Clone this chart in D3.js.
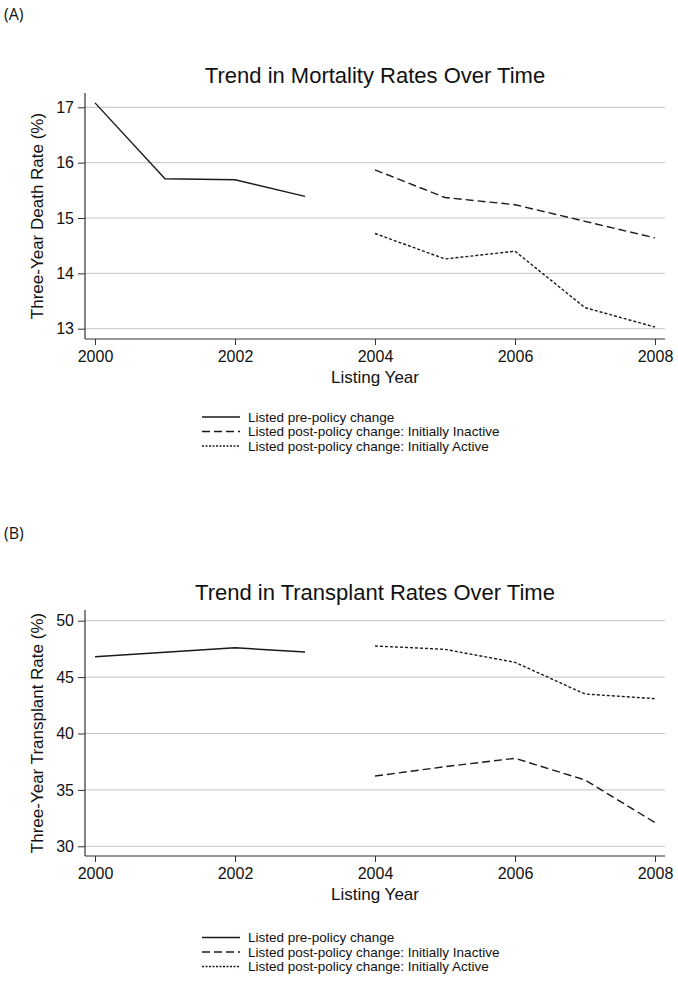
<!DOCTYPE html>
<html>
<head>
<meta charset="utf-8">
<script src="https://cdn.jsdelivr.net/npm/d3@7"></script>
<style>
  html, body { margin: 0; padding: 0; background: #fff; }
  svg { display: block; }
  svg text { font-family: Arial, "Liberation Sans", Helvetica, sans-serif; }
  svg text.tag { font-family: "Open Sans", Carlito, Calibri, sans-serif; }
</style>
</head>
<body>
<svg id="chart" width="678" height="993"></svg>
<script>
// ---- Data ----
const yearsPre = [2000, 2001, 2002, 2003];
const yearsPost = [2004, 2005, 2006, 2007, 2008];
const xTicks = [2000, 2002, 2004, 2006, 2008];

const mortalityPre = [17.08, 15.71, 15.69, 15.39];
const mortalityInactive = [15.87, 15.37, 15.24, 14.94, 14.64];
const mortalityActive = [14.72, 14.26, 14.40, 13.38, 13.03];
const mortalityTicks = [13, 14, 15, 16, 17];

const transplantPre = [46.8, 47.2, 47.6, 47.22];
const transplantInactive = [36.23, 37.06, 37.8, 35.88, 32.1];
const transplantActive = [47.76, 47.46, 46.31, 43.5, 43.09];
const transplantTicks = [30, 35, 40, 45, 50];

const legendLabels = [
  "Listed pre-policy change",
  "Listed post-policy change: Initially Inactive",
  "Listed post-policy change: Initially Active"
];
const dashStyles = [null, "8,4", "3,2"];

const svg = d3.select("#chart");
const lineColor = "#1a1a1a";
const axisColor = "#333";

function panel(cfg) {
  const g = svg.append("g");
  const x = d3.scaleLinear().domain([2000, 2008]).range([95, 655]);
  const y = d3.scaleLinear().domain(cfg.yDomain).range(cfg.yRange);

  // panel tag
  g.append("text").attr("class", "tag").attr("x", 4).attr("y", cfg.tagY)
    .attr("font-size", 16).attr("fill", "#111").text(cfg.tag);

  // title
  g.append("text").attr("x", 375).attr("y", cfg.titleY)
    .attr("text-anchor", "middle").attr("font-size", 22).attr("fill", "#111")
    .text(cfg.title);

  // gridlines
  g.append("g").selectAll("line").data(cfg.yTicks).join("line")
    .attr("x1", 85).attr("x2", 665)
    .attr("y1", d => y(d)).attr("y2", d => y(d))
    .attr("stroke", "#c4c4c4").attr("stroke-width", 1);

  // y axis
  const yAxis = d3.axisLeft(y).tickValues(cfg.yTicks).tickFormat(d3.format("d"))
    .tickSize(7).tickPadding(4);
  const ya = g.append("g").attr("transform", "translate(85,0)").call(yAxis);
  ya.attr("font-family", null).attr("font-size", null);
  ya.select(".domain").remove();
  ya.selectAll(".tick line").attr("stroke", axisColor);
  ya.selectAll(".tick text").attr("font-size", 16).attr("fill", "#111");
  g.append("line").attr("x1", 85).attr("x2", 85)
    .attr("y1", cfg.axisTop).attr("y2", cfg.axisBottom)
    .attr("stroke", axisColor).attr("stroke-width", 1.2);

  // x axis
  const xAxis = d3.axisBottom(x).tickValues(xTicks).tickFormat(d3.format("d"))
    .tickSize(6).tickPadding(6);
  const xa = g.append("g").attr("transform", `translate(0,${cfg.axisBottom})`).call(xAxis);
  xa.attr("font-family", null).attr("font-size", null);
  xa.select(".domain").remove();
  xa.selectAll(".tick line").attr("stroke", axisColor);
  xa.selectAll(".tick text").attr("font-size", 16).attr("fill", "#111");
  g.append("line").attr("x1", 85).attr("x2", 665)
    .attr("y1", cfg.axisBottom).attr("y2", cfg.axisBottom)
    .attr("stroke", axisColor).attr("stroke-width", 1.2);

  // axis titles
  g.append("text").attr("x", 375).attr("y", cfg.axisBottom + 44)
    .attr("text-anchor", "middle").attr("font-size", 17).attr("fill", "#111")
    .text("Listing Year");
  g.append("text")
    .attr("transform", `translate(43,${(cfg.axisTop + cfg.axisBottom) / 2}) rotate(-90)`)
    .attr("text-anchor", "middle").attr("font-size", 17).attr("fill", "#111")
    .text(cfg.yLabel);

  // lines
  const line = d3.line().x(d => x(d[0])).y(d => y(d[1]));
  const series = [
    d3.zip(yearsPre, cfg.pre),
    d3.zip(yearsPost, cfg.inactive),
    d3.zip(yearsPost, cfg.active)
  ];
  series.forEach((s, i) => {
    g.append("path").datum(s).attr("d", line)
      .attr("fill", "none").attr("stroke", lineColor).attr("stroke-width", 1.4)
      .attr("stroke-dasharray", dashStyles[i]);
  });

  // legend
  const lg = g.append("g");
  legendLabels.forEach((lab, i) => {
    const cy = cfg.legendY + i * 14.5;
    lg.append("line").attr("x1", 202).attr("x2", 240).attr("y1", cy).attr("y2", cy)
      .attr("stroke", lineColor).attr("stroke-width", 1.4)
      .attr("stroke-dasharray", i === 2 ? "2,1.5" : dashStyles[i]);
    lg.append("text").attr("x", 248).attr("y", cy).attr("dy", "0.35em")
      .attr("font-size", 13.5).attr("fill", "#111").text(lab);
  });
}

panel({
  tag: "(A)", tagY: 20,
  title: "Trend in Mortality Rates Over Time", titleY: 83,
  yDomain: [13, 17], yRange: [328.7, 107.3], yTicks: mortalityTicks,
  axisTop: 93, axisBottom: 339,
  yLabel: "Three-Year Death Rate (%)",
  pre: mortalityPre, inactive: mortalityInactive, active: mortalityActive,
  legendY: 417
});

panel({
  tag: "(B)", tagY: 539,
  title: "Trend in Transplant Rates Over Time", titleY: 600,
  yDomain: [30, 50], yRange: [846.3, 620.7], yTicks: transplantTicks,
  axisTop: 610, axisBottom: 856,
  yLabel: "Three-Year Transplant Rate (%)",
  pre: transplantPre, inactive: transplantInactive, active: transplantActive,
  legendY: 937.5
});
</script>
</body>
</html>
